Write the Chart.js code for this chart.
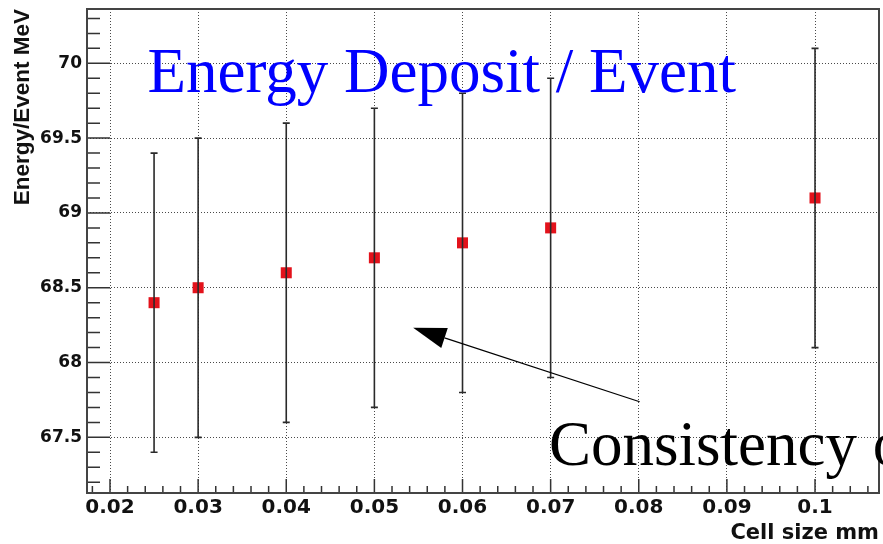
<!DOCTYPE html>
<html>
<head>
<meta charset="utf-8">
<script src="https://cdn.jsdelivr.net/npm/chart.js@4/dist/chart.umd.min.js"></script>
<style>
  html, body { margin: 0; padding: 0; background: #ffffff; }
  canvas { display: block; }
</style>
</head>
<body>
<canvas id="c" width="883" height="544"></canvas>
<script>
// Mean energy deposited per event versus cell size, with its spread
const cellSizes = [0.025, 0.03, 0.04, 0.05, 0.06, 0.07, 0.1];
const energyPerEvent = [68.4, 68.5, 68.6, 68.7, 68.8, 68.9, 69.1];
const energyError = [1.0, 1.0, 1.0, 1.0, 1.0, 1.0, 1.0];

const xTickValues = [0.02, 0.03, 0.04, 0.05, 0.06, 0.07, 0.08, 0.09, 0.1];
const xTickLabels = ['0.02', '0.03', '0.04', '0.05', '0.06', '0.07', '0.08', '0.09', '0.1'];
const yTickValues = [67.5, 68, 68.5, 69, 69.5, 70];
const yTickLabels = ['67.5', '68', '68.5', '69', '69.5', '70'];

const xRange = [0.01739, 0.10726];
const yRange = [67.128, 70.363];

const plotTitle = 'Energy Deposit / Event';
const noteText = 'Consistency of';
// arrow from the note towards the points, in data units [x, y]
const arrowTail = [0.0801, 67.738];
const arrowTip = [0.0544, 68.233];

const SERIF = '"Liberation Serif", "Times New Roman", serif';

function noEdgePadding(scale) {
  scale.paddingTop = 0;
  scale.paddingBottom = 0;
  scale.paddingLeft = 0;
  scale.paddingRight = 0;
}

const framePlugin = {
  id: 'rootFrame',
  beforeDraw(chart) {
    const { ctx, width, height } = chart;
    ctx.save();
    ctx.fillStyle = '#ffffff';
    ctx.fillRect(0, 0, width, height);
    ctx.restore();
  },
  afterDatasetsDraw(chart) {
    // vertical error bars with short caps
    const { ctx, scales: { x, y } } = chart;
    ctx.save();
    ctx.strokeStyle = '#2a2a2a';
    ctx.lineWidth = 1.6;
    ctx.beginPath();
    cellSizes.forEach((cs, i) => {
      const px = x.getPixelForValue(cs);
      const lo = y.getPixelForValue(energyPerEvent[i] - energyError[i]);
      const hi = y.getPixelForValue(energyPerEvent[i] + energyError[i]);
      ctx.moveTo(px, lo); ctx.lineTo(px, hi);
      ctx.moveTo(px - 3.5, lo); ctx.lineTo(px + 3.5, lo);
      ctx.moveTo(px - 3.5, hi); ctx.lineTo(px + 3.5, hi);
    });
    ctx.stroke();
    ctx.restore();
  },
  afterDraw(chart) {
    const { ctx, chartArea: a, scales: { x, y } } = chart;
    ctx.save();

    // inward tick marks: minor and major
    ctx.strokeStyle = '#333333';
    ctx.lineWidth = 1.5;
    ctx.beginPath();
    const xStep = 0.002;
    for (let i = Math.ceil(x.min / xStep - 1e-6); i * xStep <= x.max + 1e-9; i++) {
      const px = x.getPixelForValue(i * xStep);
      const len = (i % 5 === 0) ? 14 : 7;
      ctx.moveTo(px, a.bottom); ctx.lineTo(px, a.bottom - len);
    }
    const yStep = 0.1;
    for (let i = Math.ceil(y.min / yStep - 1e-6); i * yStep <= y.max + 1e-9; i++) {
      const py = y.getPixelForValue(i * yStep);
      const len = (i % 5 === 0) ? 23 : 13;
      ctx.moveTo(a.left, py); ctx.lineTo(a.left + len, py);
    }
    ctx.stroke();

    // frame around the plot
    ctx.strokeStyle = '#444444';
    ctx.lineWidth = 2;
    ctx.strokeRect(a.left, a.top, a.right - a.left, a.bottom - a.top);

    // title inside the frame
    ctx.fillStyle = '#0000ff';
    ctx.font = '63px ' + SERIF;
    ctx.textAlign = 'left';
    ctx.textBaseline = 'alphabetic';
    ctx.fillText(plotTitle, a.left + 60.5, a.top + 83);

    // arrow
    const tx = x.getPixelForValue(arrowTail[0]);
    const ty = y.getPixelForValue(arrowTail[1]);
    const hx = x.getPixelForValue(arrowTip[0]);
    const hy = y.getPixelForValue(arrowTip[1]);
    const ang = Math.atan2(hy - ty, hx - tx);
    const headLen = 33, headHalf = 10.5;
    const bx = hx - headLen * Math.cos(ang);
    const by = hy - headLen * Math.sin(ang);
    ctx.strokeStyle = '#000000';
    ctx.lineWidth = 1.2;
    ctx.beginPath();
    ctx.moveTo(tx, ty); ctx.lineTo(bx, by);
    ctx.stroke();
    ctx.fillStyle = '#000000';
    ctx.beginPath();
    ctx.moveTo(hx, hy);
    ctx.lineTo(bx - headHalf * Math.sin(ang), by + headHalf * Math.cos(ang));
    ctx.lineTo(bx + headHalf * Math.sin(ang), by - headHalf * Math.cos(ang));
    ctx.closePath();
    ctx.fill();

    // note text
    ctx.fillStyle = '#000000';
    ctx.font = '63px ' + SERIF;
    ctx.fillText(noteText, a.left + 462, a.top + 456);

    ctx.restore();
  }
};

new Chart(document.getElementById('c'), {
  type: 'scatter',
  data: {
    datasets: [{
      label: plotTitle,
      data: cellSizes.map((cs, i) => ({ x: cs, y: energyPerEvent[i] })),
      pointStyle: 'rect',
      pointRadius: 7.8,
      pointHoverRadius: 7.8,
      pointBorderWidth: 0,
      backgroundColor: '#e3121b',
      borderColor: '#e3121b',
      showLine: false
    }]
  },
  options: {
    responsive: false,
    devicePixelRatio: 1,
    animation: false,
    events: [],
    layout: { autoPadding: false, padding: { top: 9, right: 4, left: 0, bottom: 0 } },
    plugins: {
      legend: { display: false },
      tooltip: { enabled: false },
      title: { display: false }
    },
    scales: {
      x: {
        type: 'linear',
        min: xRange[0],
        max: xRange[1],
        afterBuildTicks(scale) { scale.ticks = xTickValues.map(v => ({ value: v })); },
        afterFit(scale) { scale.height = 51; noEdgePadding(scale); },
        grid: { display: true, drawTicks: false, color: '#4a4a4a', lineWidth: 1 },
        border: { display: false, dash: [1, 2] },
        ticks: {
          autoSkip: false,
          maxRotation: 0,
          padding: 3,
          color: '#111111',
          font: { family: '"DejaVu Sans"', weight: 'bold', size: 20, lineHeight: 1.2 },
          callback(value) {
            const k = xTickValues.findIndex(v => Math.abs(v - value) < 1e-9);
            return k >= 0 ? xTickLabels[k] : '';
          }
        },
        title: {
          display: true,
          text: 'Cell size mm',
          align: 'end',
          color: '#111111',
          padding: { top: 0, bottom: 0 },
          font: { family: '"DejaVu Sans"', weight: 'bold', size: 21, lineHeight: 1 }
        }
      },
      y: {
        type: 'linear',
        min: yRange[0],
        max: yRange[1],
        afterBuildTicks(scale) { scale.ticks = yTickValues.map(v => ({ value: v })); },
        afterFit(scale) { scale.width = 87; noEdgePadding(scale); },
        grid: { display: true, drawTicks: false, color: '#4a4a4a', lineWidth: 1 },
        border: { display: false, dash: [1, 2] },
        ticks: {
          autoSkip: false,
          padding: 5,
          color: '#111111',
          font: { family: '"DejaVu Sans"', weight: 'bold', size: 17, lineHeight: 1.2 },
          callback(value) {
            const k = yTickValues.findIndex(v => Math.abs(v - value) < 1e-9);
            return k >= 0 ? yTickLabels[k] : '';
          }
        },
        title: {
          display: true,
          text: 'Energy/Event MeV',
          align: 'end',
          color: '#111111',
          padding: { top: 12, bottom: 0 },
          font: { family: '"Liberation Sans"', weight: 'bold', size: 22.5, lineHeight: 1 }
        }
      }
    }
  },
  plugins: [framePlugin]
});
</script>
</body>
</html>
